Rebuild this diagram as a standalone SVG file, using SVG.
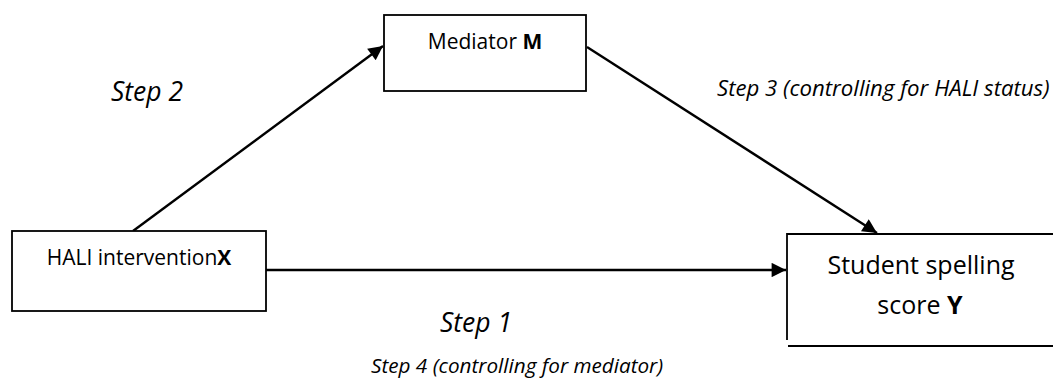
<svg xmlns="http://www.w3.org/2000/svg" width="1053" height="383" viewBox="0 0 1053 383">
<style>
.box{fill:#fff;stroke:#000;stroke-width:1.8}
.edge{stroke:#000;stroke-width:2.4;fill:none}
.t{font-family:"Open Sans","Noto Sans","Liberation Sans",sans-serif;fill:#000}
.lbl{font-family:"Open Sans","Noto Sans","Liberation Sans",sans-serif;font-style:italic;fill:#000}
.b{font-weight:bold}
</style>
<defs>
<marker id="ah" viewBox="0 0 10 10" refX="10" refY="5" markerWidth="7.5" markerHeight="6" markerUnits="strokeWidth" orient="auto">
<path d="M0,0 L10,5 L0,10 z" fill="#000"/>
</marker>
</defs>
<rect width="1053" height="383" fill="#fff"/>
<g id="connectors">
<line class="edge" x1="133" y1="231" x2="383" y2="46" marker-end="url(#ah)"/>
<line class="edge" x1="587" y1="47" x2="877" y2="233" marker-end="url(#ah)"/>
<line class="edge" x1="266" y1="270" x2="786" y2="270" marker-end="url(#ah)"/>
</g>
<g id="node-M">
<rect class="box" x="384" y="15" width="202" height="76"/>
<text class="t" x="485" y="49" font-size="21" text-anchor="middle">Mediator <tspan class="b">M</tspan></text>
</g>
<g id="node-X">
<rect class="box" x="12" y="231" width="254" height="80"/>
<text class="t" x="139" y="265" font-size="21" text-anchor="middle">HALI intervention<tspan class="b">X</tspan></text>
</g>
<g id="node-Y">
<path class="box" d="M1060,234 H787 V340 M788,346 H1060"/>
<text class="t" x="921" y="274" font-size="25" text-anchor="middle">Student spelling</text>
<text class="t" x="920" y="314" font-size="25" text-anchor="middle">score <tspan class="b">Y</tspan></text>
</g>
<g id="labels">
<text class="lbl" x="111" y="101" font-size="26.5">Step 2</text>
<text class="lbl" x="717" y="96" font-size="22.2">Step 3 (controlling for HALI status)</text>
<text class="lbl" x="440" y="332" font-size="26.5">Step 1</text>
<text class="lbl" x="371" y="373" font-size="20.7">Step 4 (controlling for mediator)</text>
</g>
</svg>
